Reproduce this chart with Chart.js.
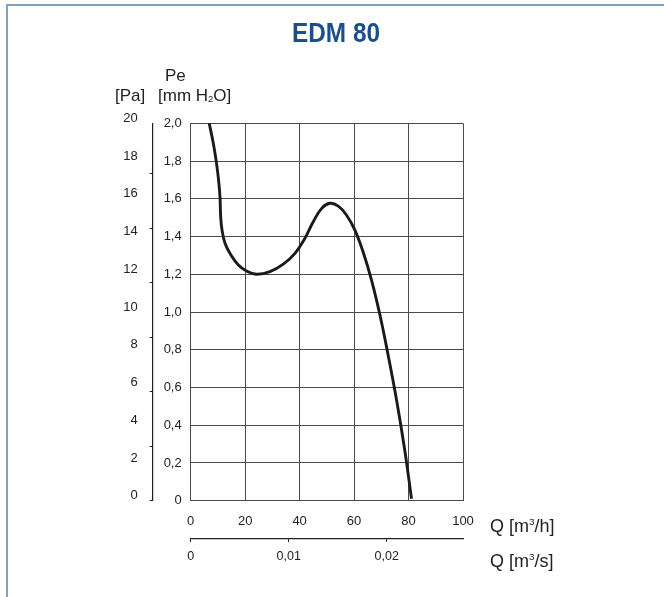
<!DOCTYPE html>
<html>
<head>
<meta charset="utf-8">
<script src="https://cdn.jsdelivr.net/npm/chart.js@4.4.1/dist/chart.umd.min.js"></script>
<style>
  html, body { margin: 0; padding: 0; background: #fff; width: 664px; height: 597px; overflow: hidden; }
  #wrap { position: relative; width: 664px; height: 597px; }
  #frame { position: absolute; left: 6px; top: 4px; width: 700px; height: 700px; border-left: 2px solid #7fa2c3; border-top: 2px solid #7fa2c3; }
  canvas { position: absolute; left: 0; top: 0; }
  .t { position: absolute; font-family: "Liberation Sans", Arial, sans-serif; color: #222; white-space: nowrap; line-height: 1; }
  .t sup { font-size: 0.55em; vertical-align: 0.75em; }
  .t sub { font-size: 0.55em; vertical-align: -0.15em; }
  #title { position: absolute; left: 236px; width: 200px; text-align: center; top: 19px; font-family: "Liberation Sans Narrow", "Liberation Sans", sans-serif; font-weight: bold; font-size: 28px; line-height: 1; color: #1b4f8c; transform: scaleX(0.87); }
</style>
</head>
<body>
<div id="wrap">
  <div id="frame"></div>
  <canvas id="c" width="664" height="597"></canvas>
  <div id="title">EDM 80</div>
  <div class="t" style="left:165px; top:67px; font-size:17px;">Pe</div>
  <div class="t" style="left:115px; top:87px; font-size:17px;">[Pa]</div>
  <div class="t" style="left:158px; top:87px; font-size:17px;">[mm H<sub>2</sub>O]</div>
  <div class="t" style="left:490px; top:517px; font-size:18px;">Q [m<sup>3</sup>/h]</div>
  <div class="t" style="left:490px; top:552px; font-size:18px;">Q [m<sup>3</sup>/s]</div>
</div>
<script>
// Curve: flow Q [m3/h] vs static pressure Pe [mm H2O]
const qValues  = [6.8, 8.3, 9.3, 10.1, 10.75, 11.0, 11.5, 12.6, 14.4, 17.5, 20.5, 24.2, 29.1, 34.0, 38.3, 41.9, 45.0, 48.1, 51.1, 54.2, 57.2, 60.3, 63.3, 66.4, 69.5, 72.5, 75.6, 78.6, 81.1];
const peValues = [2.0, 1.894, 1.806, 1.717, 1.611, 1.505, 1.434, 1.364, 1.311, 1.249, 1.217, 1.20, 1.214, 1.254, 1.311, 1.39, 1.478, 1.549, 1.576, 1.561, 1.514, 1.434, 1.319, 1.169, 0.984, 0.772, 0.534, 0.269, 0.01];

// Tick labels
const qHourTicks = [0, 20, 40, 60, 80, 100];
const qSecTicks = [0, 0.01, 0.02];
const mmTicks = [0, 0.2, 0.4, 0.6, 0.8, 1.0, 1.2, 1.4, 1.6, 1.8, 2.0];
const paLabelTicks = [0, 2, 4, 6, 8, 10, 12, 14, 16, 18, 20];
const paMarkTicks = [0, 2.89, 5.78, 8.67, 11.56, 14.45, 17.34];

const points = qValues.map((q, i) => ({ x: q, y: peValues[i] }));
const fontBase = { family: '"Liberation Sans", Arial, sans-serif', size: 13 };
const dark = '#222';
const gridCol = '#4a4a4a';

function comma(v, d) { return v === 0 ? '0' : v.toFixed(d).replace('.', ','); }

new Chart(document.getElementById('c'), {
  type: 'line',
  data: {
    datasets: [{
      data: points,
      borderColor: '#1a1a1a',
      borderWidth: 2.9,
      pointRadius: 0,
      fill: false,
      tension: 0.4,
      xAxisID: 'x',
      yAxisID: 'y'
    }]
  },
  options: {
    responsive: false,
    animation: false,
    events: [],
    layout: { padding: { left: 112.7, top: 123.3, right: 201, bottom: 28 } },
    plugins: { legend: { display: false }, title: { display: false }, tooltip: { enabled: false } },
    scales: {
      x: {
        type: 'linear', position: 'bottom', weight: 0,
        min: 0, max: 100,
        afterBuildTicks: s => { s.ticks = qHourTicks.map(v => ({ value: v })); },
        afterFit: s => { s.height = 38.3; },
        ticks: { font: fontBase, color: dark, padding: 13, maxRotation: 0, autoSkip: false, callback: v => String(v) },
        grid: { color: gridCol, lineWidth: 1, drawTicks: false },
        border: { display: true, color: gridCol, width: 1 }
      },
      x2: {
        type: 'linear', position: 'bottom', weight: 1,
        min: 0, max: 100 / 3600,
        afterBuildTicks: s => { s.ticks = qSecTicks.map(v => ({ value: v })); },
        afterFit: s => { s.height = 30; },
        ticks: { font: { family: fontBase.family, size: 12.5 }, color: dark, padding: 7, maxRotation: 0, autoSkip: false, callback: v => comma(v, 2) },
        grid: { drawOnChartArea: false, drawTicks: true, tickLength: 3, color: dark, tickColor: dark },
        border: { display: true, color: dark, width: 1.2 }
      },
      y: {
        type: 'linear', position: 'left', weight: 0,
        min: 0, max: 2.0,
        afterBuildTicks: s => { s.ticks = mmTicks.map(v => ({ value: v })); },
        afterFit: s => { s.width = 38; },
        ticks: { font: fontBase, color: dark, padding: 9, autoSkip: false, callback: v => comma(v, 1) },
        grid: { color: gridCol, lineWidth: 1, drawTicks: false },
        border: { display: true, color: gridCol, width: 1 }
      },
      y2: {
        type: 'linear', position: 'left', weight: 1,
        min: 0, max: 20,
        afterBuildTicks: s => {
          const t = paLabelTicks.map(v => ({ value: v, label: true }));
          paMarkTicks.forEach(v => t.push({ value: v + 0.0001, mark: true }));
          t.sort((a, b) => a.value - b.value);
          s.ticks = t;
        },
        afterFit: s => { s.width = 40; },
        ticks: {
          font: fontBase, color: dark, padding: 12, autoSkip: false, labelOffset: -5,
          callback: function (v, i, ticks) { return ticks[i].label ? String(Math.round(v)) : ''; }
        },
        grid: {
          drawOnChartArea: false, drawTicks: true, tickLength: 3,
          tickColor: ctx => (ctx.tick && ctx.tick.mark) ? dark : 'rgba(0,0,0,0)'
        },
        border: { display: true, color: dark, width: 1.2 }
      }
    }
  }
});
</script>
</body>
</html>
